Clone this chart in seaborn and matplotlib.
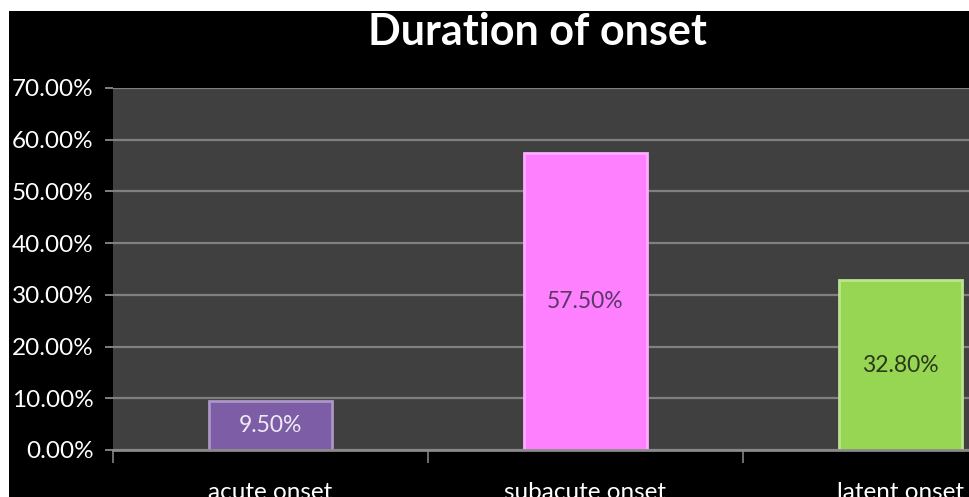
import matplotlib
matplotlib.use("Agg")
import matplotlib.pyplot as plt
from matplotlib.colors import to_rgb
from matplotlib.patches import Rectangle
from matplotlib.ticker import FixedLocator, PercentFormatter
import seaborn as sns
import pandas as pd

# Onset duration shares (percent)
categories = ["acute onset", "subacute onset", "latent onset"]
shares = [9.50, 57.50, 32.80]
bar_colors = ["#7d5ea6", "#ff80ff", "#97d653"]
label_colors = ["#eeeaf4", "#5b3768", "#2b3a1c"]
y_ticks = [0, 10, 20, 30, 40, 50, 60, 70]

df = pd.DataFrame({"category": categories, "share": shares})

sns.set_theme(style="dark")
plt.rcParams["font.family"] = ["Lato", "DejaVu Sans"]

W, H = 969, 497
fig = plt.figure(figsize=(W / 100, H / 100), dpi=100)
fig.patch.set_facecolor("white")
# black chart frame
fig.add_artist(Rectangle((9 / W, 0), 1, 1 - 11 / H, transform=fig.transFigure,
                         facecolor="black", edgecolor="none", zorder=0))

# plot area: the third category runs past the right edge of the frame
ax = fig.add_axes([113 / W, (H - 450) / H, 945 / W, 362 / H])
ax.set_facecolor("#404040")

sns.barplot(data=df, x="category", y="share", hue="category", palette=bar_colors,
            width=0.39, legend=False, ax=ax, saturation=1,
            edgecolor="none", linewidth=0, zorder=3)

# soft bevel: a lighter tint of each bar's own colour around its edge
for patch, col in zip(ax.patches, bar_colors):
    r, g, b = to_rgb(col)
    tint = tuple(c + (1 - c) * 0.35 for c in (r, g, b))
    patch.set_edgecolor(tint)
    patch.set_linewidth(2.0)

for cont, col in zip(ax.containers, label_colors):
    ax.bar_label(cont, labels=[f"{v:.2f}%" for v in cont.datavalues],
                 label_type="center", color=col, fontsize=16.5, zorder=5)

ax.set_xlim(-0.5, 2.5)
ax.set_ylim(0, 70)
ax.yaxis.set_major_locator(FixedLocator(y_ticks))
ax.yaxis.set_major_formatter(PercentFormatter(decimals=2))
ax.grid(axis="y", color="#808080", linewidth=1.6, zorder=1)
ax.grid(axis="x", visible=False)
ax.set_axisbelow(True)

for side in ("top", "right", "left"):
    ax.spines[side].set_visible(False)
ax.spines["bottom"].set_color("#8a8a8a")
ax.spines["bottom"].set_linewidth(2)
ax.spines["bottom"].set_zorder(4)

ax.tick_params(axis="y", colors="#808080", labelcolor="white", labelsize=17.5,
               length=6, width=1.4, pad=8, left=True)
ax.xaxis.set_minor_locator(FixedLocator([-0.5, 0.5, 1.5, 2.5]))
ax.tick_params(axis="x", which="major", length=0, labelcolor="white",
               labelsize=17.5, pad=23)
ax.tick_params(axis="x", which="minor", length=9, width=1.4, color="#707070",
               bottom=True)
ax.set_xlabel("")
ax.set_ylabel("")

fig.text(537 / W, 1 - 32 / H, "Duration of onset", color="white",
         fontsize=31, fontweight="bold", ha="center", va="center")

fig.savefig("out.png", dpi=100, facecolor=fig.get_facecolor())
